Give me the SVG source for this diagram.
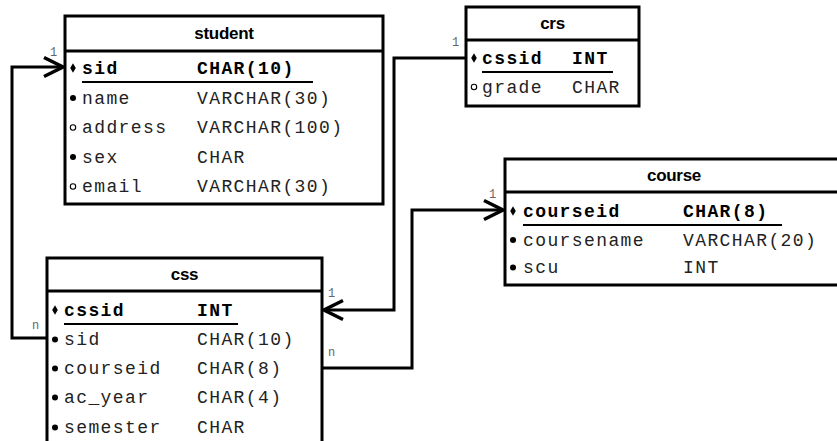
<svg xmlns="http://www.w3.org/2000/svg" width="837" height="441" viewBox="0 0 837 441">
  <style>
    .box { fill: #fff; stroke: #000; stroke-width: 3; }
    .div { stroke: #000; stroke-width: 3; }
    .ul { stroke: #000; stroke-width: 2; }
    .title { font-family: "Liberation Sans", Arial, sans-serif; font-weight: bold; font-size: 17px; letter-spacing: -0.3px; text-anchor: middle; fill: #000; }
    .col { font-family: "Liberation Mono", "Courier New", monospace; font-size: 18px; letter-spacing: 1.4px; fill: #222; }
    .pk { font-weight: bold; fill: #000; }
    .card { font-family: "Liberation Mono", "Courier New", monospace; font-size: 12px; fill: #666; }
    .dot { fill: #000; }
    .ring { fill: none; stroke: #000; stroke-width: 1.1; }
    .wire { fill: none; stroke: #000; stroke-width: 3; }
  </style>
  <defs>
    <marker id="open-arrow" viewBox="-22 -12 25 24" refX="0" refY="0" markerWidth="25" markerHeight="24" markerUnits="userSpaceOnUse" orient="auto">
      <path d="M-19,-9.5 L0,0 L-19,9.5" fill="none" stroke="#000" stroke-width="3.4"/>
    </marker>
    <path id="pk-mark" d="M0,-4.8 L2.8,0 L0,4.8 L-2.8,0 Z" fill="#000"/>
  </defs>

  <rect width="837" height="441" fill="#fff"/>

  <!-- relationships -->
  <g id="connectors">
    <path class="wire" d="M47,338 H12 V67 H63" marker-end="url(#open-arrow)"/>
    <path class="wire" d="M466,58 H394 V310 H324" marker-end="url(#open-arrow)"/>
    <path class="wire" d="M322,368 H412 V210 H503" marker-end="url(#open-arrow)"/>
    <text class="card" x="50" y="56">1</text>
    <text class="card" x="32" y="329">n</text>
    <text class="card" x="452" y="46">1</text>
    <text class="card" x="328" y="297">1</text>
    <text class="card" x="328" y="356">n</text>
    <text class="card" x="489" y="198">1</text>
  </g>

  <!-- student -->
  <g id="student">
    <rect class="box" x="65" y="16" width="318" height="188"/>
    <line class="div" x1="65" y1="51" x2="383" y2="51"/>
    <text class="title" x="224" y="39">student</text>
    <use href="#pk-mark" x="73" y="68"/>
    <text class="col pk" x="82" y="74">sid</text>
    <text class="col pk" x="197" y="74">CHAR(10)</text>
    <line class="ul" x1="82" y1="82" x2="313" y2="82"/>
    <circle class="dot" cx="73" cy="98" r="3"/>
    <text class="col" x="82" y="103.5">name</text>
    <text class="col" x="197" y="103.5">VARCHAR(30)</text>
    <circle class="ring" cx="73" cy="127.5" r="2.7"/>
    <text class="col" x="82" y="133">address</text>
    <text class="col" x="197" y="133">VARCHAR(100)</text>
    <circle class="dot" cx="73" cy="157" r="3"/>
    <text class="col" x="82" y="162.5">sex</text>
    <text class="col" x="197" y="162.5">CHAR</text>
    <circle class="ring" cx="73" cy="186.5" r="2.7"/>
    <text class="col" x="82" y="192">email</text>
    <text class="col" x="197" y="192">VARCHAR(30)</text>
  </g>

  <!-- crs -->
  <g id="crs">
    <rect class="box" x="466" y="7" width="173" height="99"/>
    <line class="div" x1="466" y1="40" x2="639" y2="40"/>
    <text class="title" x="552.5" y="29">crs</text>
    <use href="#pk-mark" x="474" y="58"/>
    <text class="col pk" x="482" y="63.5">cssid</text>
    <text class="col pk" x="572" y="63.5">INT</text>
    <line class="ul" x1="482" y1="72" x2="613" y2="72"/>
    <circle class="ring" cx="474" cy="87" r="2.7"/>
    <text class="col" x="482" y="92.5">grade</text>
    <text class="col" x="572" y="92.5">CHAR</text>
  </g>

  <!-- course -->
  <g id="course">
    <rect class="box" x="505" y="159" width="338" height="126"/>
    <line class="div" x1="505" y1="192" x2="843" y2="192"/>
    <text class="title" x="674" y="181">course</text>
    <use href="#pk-mark" x="513" y="211"/>
    <text class="col pk" x="523" y="216.5">courseid</text>
    <text class="col pk" x="683" y="216.5">CHAR(8)</text>
    <line class="ul" x1="523" y1="225" x2="782" y2="225"/>
    <circle class="dot" cx="513" cy="240" r="3"/>
    <text class="col" x="523" y="245.5">coursename</text>
    <text class="col" x="683" y="245.5">VARCHAR(20)</text>
    <circle class="dot" cx="513" cy="267.5" r="3"/>
    <text class="col" x="523" y="273">scu</text>
    <text class="col" x="683" y="273">INT</text>
  </g>

  <!-- css -->
  <g id="css">
    <rect class="box" x="47" y="258" width="275" height="200"/>
    <line class="div" x1="47" y1="291" x2="322" y2="291"/>
    <text class="title" x="184.5" y="280">css</text>
    <use href="#pk-mark" x="55" y="310"/>
    <text class="col pk" x="64" y="315.5">cssid</text>
    <text class="col pk" x="197" y="315.5">INT</text>
    <line class="ul" x1="64" y1="324" x2="238" y2="324"/>
    <circle class="dot" cx="55" cy="339.5" r="3"/>
    <text class="col" x="64" y="345">sid</text>
    <text class="col" x="197" y="345">CHAR(10)</text>
    <circle class="dot" cx="55" cy="368.5" r="3"/>
    <text class="col" x="64" y="374">courseid</text>
    <text class="col" x="197" y="374">CHAR(8)</text>
    <circle class="dot" cx="55" cy="397.5" r="3"/>
    <text class="col" x="64" y="403">ac_year</text>
    <text class="col" x="197" y="403">CHAR(4)</text>
    <circle class="dot" cx="55" cy="427.5" r="3"/>
    <text class="col" x="64" y="433">semester</text>
    <text class="col" x="197" y="433">CHAR</text>
  </g>
</svg>
